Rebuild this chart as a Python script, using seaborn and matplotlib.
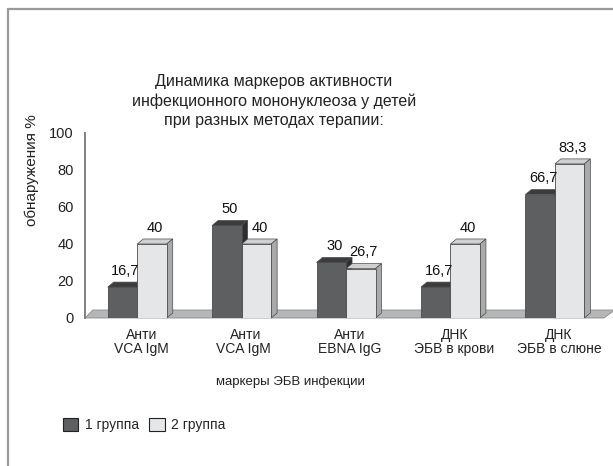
import pandas as pd
import seaborn as sns
import matplotlib
import matplotlib.pyplot as plt
import matplotlib.transforms as mtransforms
from matplotlib.patches import Polygon
from matplotlib.lines import Line2D

matplotlib.use("Agg")

# данные
markers = ["Анти\nVCA IgM", "Анти\nVCA IgM ", "Анти\nEBNA IgG", "ДНК\nЭБВ в крови", "ДНК\nЭБВ в слюне"]
groups = ["1 группа", "2 группа"]
group1 = [16.7, 50, 30, 16.7, 66.7]
group2 = [40, 40, 26.7, 40, 83.3]
value_labels1 = ["16,7", "50", "30", "16,7", "66,7"]
value_labels2 = ["40", "40", "26,7", "40", "83,3"]

df = pd.DataFrame({
    "marker": markers * 2,
    "group": [groups[0]] * 5 + [groups[1]] * 5,
    "value": group1 + group2,
})

sns.set_theme(style="white")
plt.rcParams["font.family"] = ["Liberation Sans", "DejaVu Sans"]

fig = plt.figure(figsize=(6.13, 4.66), dpi=100)
ax = fig.add_axes([0.1387, 0.3176, 0.8516, 0.397])

front = {"1 группа": "#5e5f61", "2 группа": "#e5e6e7"}
top = {"1 группа": "#3c3c3e", "2 группа": "#cfd0d1"}
side = {"1 группа": "#2e2e30", "2 группа": "#a9aaab"}

sns.barplot(data=df, x="marker", y="value", hue="group", order=markers,
            hue_order=groups, palette=front, width=0.565, edgecolor="#4a4a4a",
            linewidth=0.6, saturation=1, ax=ax)

ax.set_xlim(-0.5, 4.5)
ax.set_ylim(0, 100)

# 3D-эффект: смещение вглубь (в пикселях -> в данных)
dx = 6 / 104.4
dy = 5 / 1.85

bar_list = [(groups[k], list(c)) for k, c in enumerate(ax.containers)]

ax.add_patch(Polygon([(-0.5, 0), (4.47, 0), (4.5 + dx * 1.3, dy * 1.6), (-0.5 + dx * 1.3, dy * 1.6)],
                     closed=True, facecolor="#b5b6b7", edgecolor="#8a8a8a", lw=0.6,
                     zorder=0.5, clip_on=False))

labels_all = [value_labels1, value_labels2]
for k, (g, bars) in enumerate(bar_list):
    for i, bar in enumerate(bars):
        x0, w, h = bar.get_x(), bar.get_width(), bar.get_height()
        x1 = x0 + w
        ax.add_patch(Polygon([(x0, h), (x1, h), (x1 + dx, h + dy), (x0 + dx, h + dy)],
                             closed=True, facecolor=top[g], edgecolor="#4a4a4a", lw=0.5,
                             zorder=0.8, clip_on=False))
        ax.add_patch(Polygon([(x1, 0), (x1 + dx, dy), (x1 + dx, h + dy), (x1, h)],
                             closed=True, facecolor=side[g], edgecolor="#4a4a4a", lw=0.5,
                             zorder=0.8, clip_on=False))
        ax.annotate(labels_all[k][i], (x0 + w / 2 + dx / 2, h + dy), xytext=(0, 3),
                    textcoords="offset points", ha="center", va="bottom",
                    fontsize=10.5, color="#111111")

# оси
for s in ["top", "right", "bottom"]:
    ax.spines[s].set_visible(False)
ax.spines["left"].set_color("#808080")
ax.spines["left"].set_linewidth(1.4)
ax.set_yticks(range(0, 101, 20))
ax.tick_params(axis="y", direction="out", length=4, width=0.8, colors="#222222",
               labelsize=10.5, pad=4)
ax.tick_params(axis="x", length=0, labelsize=10, pad=7, colors="#222222")
ax.set_xlabel("")
ax.set_ylabel("")
shift = mtransforms.ScaledTranslation(4 / 100, 0, fig.dpi_scale_trans)
for t in ax.get_xticklabels():
    t.set_linespacing(1.0)
    t.set_transform(t.get_transform() + shift)

fig.text(32 / 613, 1 - 170 / 466, "обнаружения %", rotation=90, ha="center",
         va="center", fontsize=11, color="#222222")
fig.text(274 / 613, 1 - 101 / 466,
         "Динамика маркеров активности\nинфекционного мононуклеоза у детей\nпри разных методах терапии:",
         ha="center", va="center", fontsize=11.5, linespacing=1.38, color="#222222")
fig.text(290 / 613, 1 - 382 / 466, "маркеры ЭБВ инфекции", ha="center", va="center",
         fontsize=9.5, color="#222222")

# легенда
sns.move_legend(ax, "center left", bbox_to_anchor=(50 / 613, 1 - 425 / 466),
                bbox_transform=fig.transFigure, ncol=2, frameon=False, title=None,
                fontsize=10, handlelength=1.1, handleheight=1.1, handletextpad=0.5,
                columnspacing=0.75)
for h in ax.get_legend().legend_handles:
    h.set_edgecolor("#222222")
    h.set_linewidth(0.8)

# рамка
fig.add_artist(Line2D([8 / 613, 8 / 613], [0, 1 - 9 / 466], transform=fig.transFigure,
                      color="#9a9a9a", lw=1.6))
fig.add_artist(Line2D([8 / 613, 1], [1 - 9 / 466, 1 - 9 / 466], transform=fig.transFigure,
                      color="#9a9a9a", lw=1.6))

fig.savefig("out.png", dpi=100)
